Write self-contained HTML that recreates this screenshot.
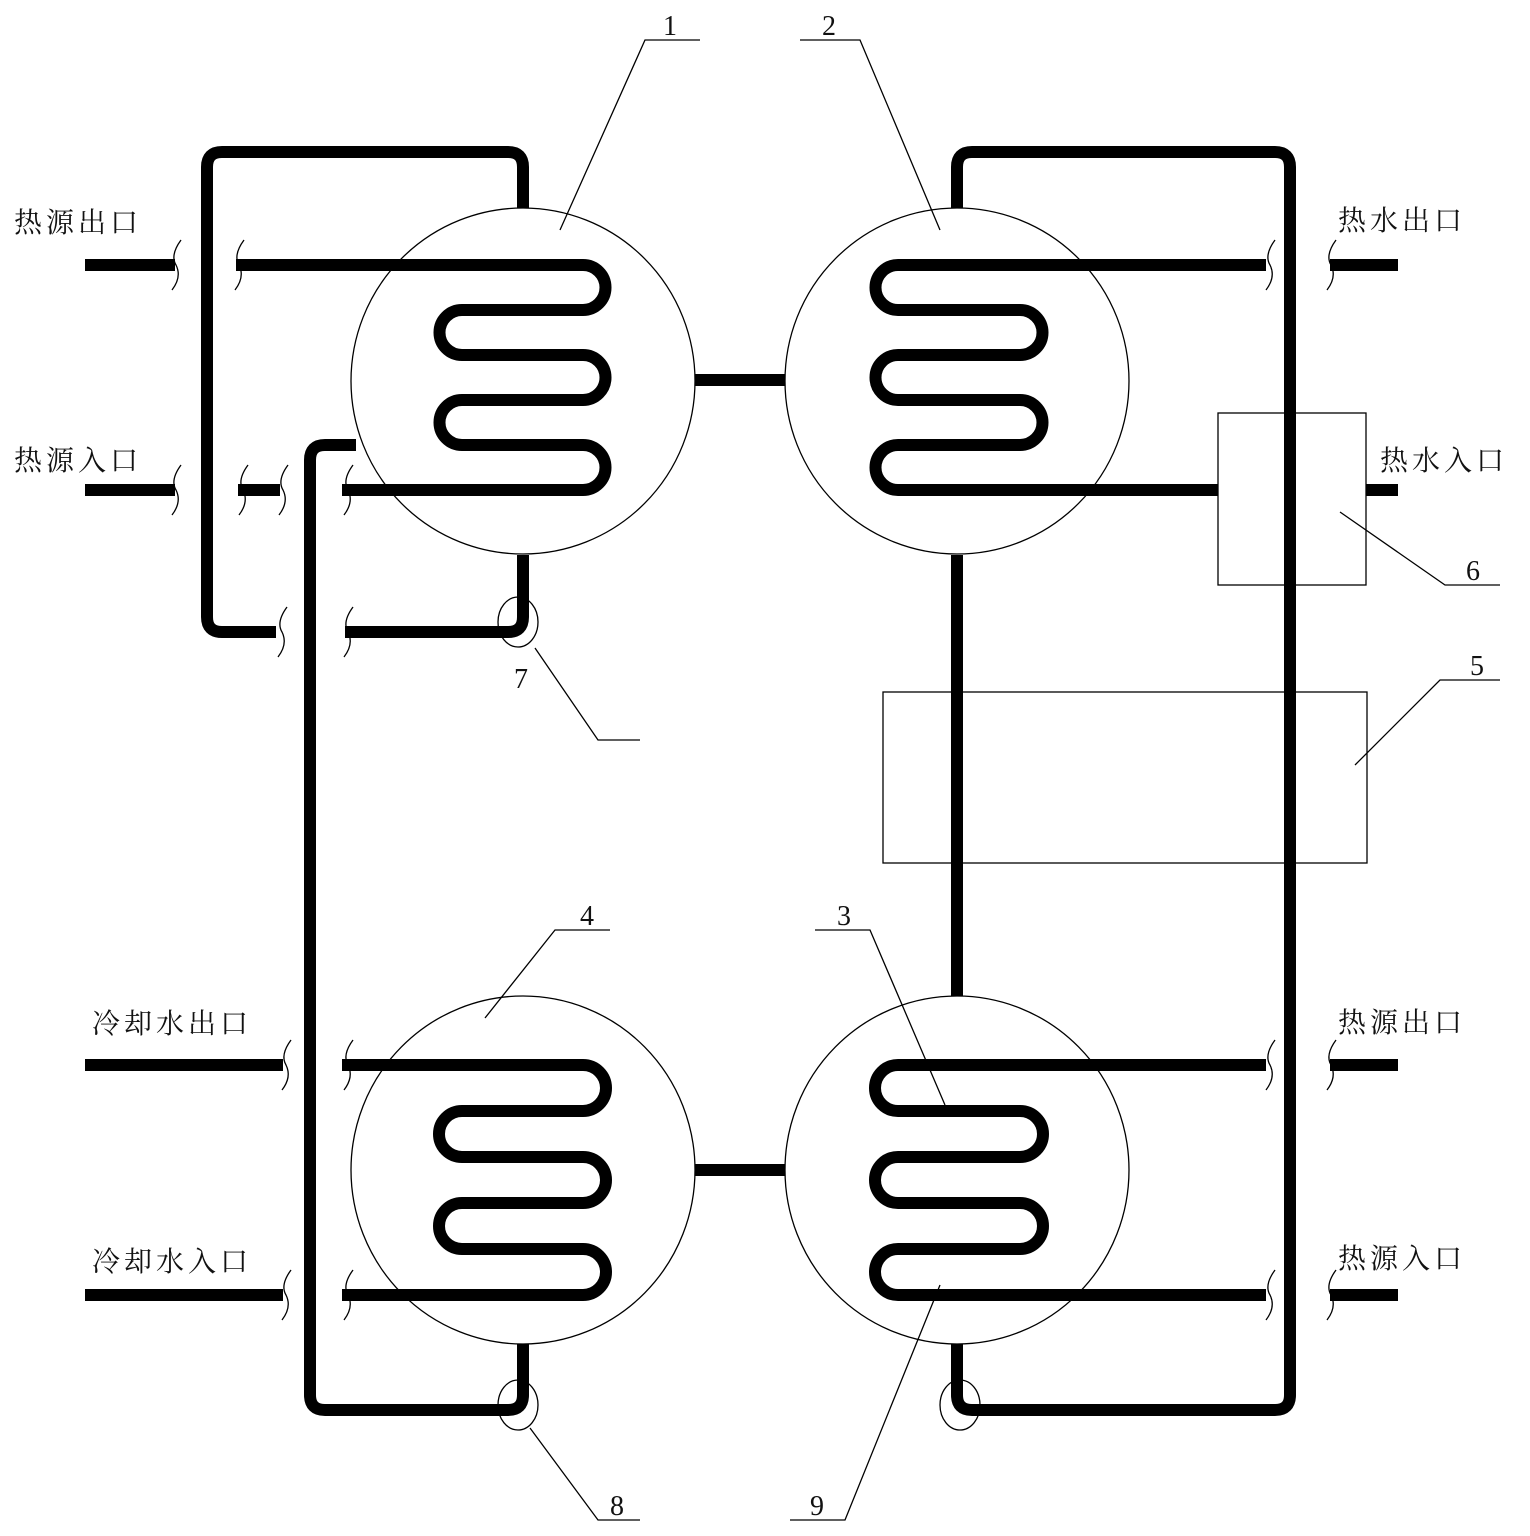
<!DOCTYPE html>
<html><head><meta charset="utf-8"><style>
html,body{margin:0;padding:0;background:#fff;}
svg{display:block;}
text{font-family:"Liberation Serif","Noto Serif CJK SC","Noto Sans CJK SC",serif;fill:#111;}
</style></head><body>
<svg width="1530" height="1536" viewBox="0 0 1530 1536" xmlns="http://www.w3.org/2000/svg">
<g fill="none" stroke="#000" stroke-width="12" stroke-linejoin="round">
<path d="M523,208 V167 Q523,152 508,152 H222 Q207,152 207,167 V617 Q207,632 222,632 H276"/>
<path d="M345,632 H508 Q523,632 523,617 V555"/>
<path d="M356,445 H325 Q310,445 310,460 V1395 Q310,1410 325,1410 H508 Q523,1410 523,1395 V1344"/>
<path d="M957,208 V167 Q957,152 972,152 H1275 Q1290,152 1290,167 V1395 Q1290,1410 1275,1410 H972 Q957,1410 957,1395 V1344"/>
<path d="M957,555 V996"/>
<path d="M695,380 H785"/><path d="M695,1170 H785"/>
<path d="M236,265 H583 A22.5,22.5 0 0 1 583,310 H462 A22.5,22.5 0 0 0 462,355 H583 A22.5,22.5 0 0 1 583,400 H462 A22.5,22.5 0 0 0 462,445 H583 A22.5,22.5 0 0 1 583,490 H342"/>
<path d="M1266,265 H898 A22.5,22.5 0 0 0 898,310 H1020 A22.5,22.5 0 0 1 1020,355 H898 A22.5,22.5 0 0 0 898,400 H1020 A22.5,22.5 0 0 1 1020,445 H898 A22.5,22.5 0 0 0 898,490 H1218"/>
<path d="M342,1065 H583 A23,23 0 0 1 583,1111 H462 A23,23 0 0 0 462,1157 H583 A23,23 0 0 1 583,1203 H462 A23,23 0 0 0 462,1249 H583 A23,23 0 0 1 583,1295 H342"/>
<path d="M1266,1065 H898 A23,23 0 0 0 898,1111 H1020 A23,23 0 0 1 1020,1157 H898 A23,23 0 0 0 898,1203 H1020 A23,23 0 0 1 1020,1249 H898 A23,23 0 0 0 898,1295 H1266"/>
<path d="M85,265 H175"/><path d="M85,490 H175"/><path d="M238,490 H280"/>
<path d="M1330,265 H1398"/><path d="M1366,490 H1398"/>
<path d="M1330,1065 H1398"/><path d="M1330,1295 H1398"/>
<path d="M85,1065 H283"/><path d="M85,1295 H283"/>
</g>
<g fill="none" stroke="#000" stroke-width="1.3">
<path d="M181,240 Q170,255 176,265 Q182,277 172,290"/>
<path d="M244,240 Q233,255 239,265 Q245,277 235,290"/>
<path d="M181,465 Q170,480 176,490 Q182,502 172,515"/>
<path d="M248,465 Q237,480 243,490 Q249,502 239,515"/>
<path d="M288,465 Q277,480 283,490 Q289,502 279,515"/>
<path d="M353,465 Q342,480 348,490 Q354,502 344,515"/>
<path d="M287,607 Q276,622 282,632 Q288,644 278,657"/>
<path d="M353,607 Q342,622 348,632 Q354,644 344,657"/>
<path d="M1275,240 Q1264,255 1270,265 Q1276,277 1266,290"/>
<path d="M1336,240 Q1325,255 1331,265 Q1337,277 1327,290"/>
<path d="M1275,1040 Q1264,1055 1270,1065 Q1276,1077 1266,1090"/>
<path d="M1336,1040 Q1325,1055 1331,1065 Q1337,1077 1327,1090"/>
<path d="M1275,1270 Q1264,1285 1270,1295 Q1276,1307 1266,1320"/>
<path d="M1336,1270 Q1325,1285 1331,1295 Q1337,1307 1327,1320"/>
<path d="M291,1040 Q280,1055 286,1065 Q292,1077 282,1090"/>
<path d="M353,1040 Q342,1055 348,1065 Q354,1077 344,1090"/>
<path d="M291,1270 Q280,1285 286,1295 Q292,1307 282,1320"/>
<path d="M353,1270 Q342,1285 348,1295 Q354,1307 344,1320"/>
<ellipse cx="523" cy="381" rx="172" ry="173"/>
<ellipse cx="957" cy="381" rx="172" ry="173"/>
<ellipse cx="523" cy="1170" rx="172" ry="174"/>
<ellipse cx="957" cy="1170" rx="172" ry="174"/>
<rect x="1218" y="413" width="148" height="172"/>
<rect x="883" y="692" width="484" height="171"/>
<ellipse cx="518" cy="622" rx="20" ry="25"/>
<ellipse cx="518" cy="1405" rx="20" ry="25"/>
<ellipse cx="960" cy="1405" rx="20" ry="25"/>
<path d="M700,40 H645 L560,230"/>
<path d="M800,40 H860 L940,230"/>
<path d="M1340,512 L1445,585 H1500"/>
<path d="M1500,680 H1440 L1355,765"/>
<path d="M535,648 L598,740 H640"/>
<path d="M610,930 H555 L485,1018"/>
<path d="M815,930 H870 L945,1105"/>
<path d="M530,1428 L598,1520 H640"/>
<path d="M940,1285 L845,1520 H790"/>
</g>
<g font-size="28">
<text x="663" y="35">1</text>
<text x="822" y="35">2</text>
<text x="837" y="925">3</text>
<text x="580" y="925">4</text>
<text x="1470" y="675">5</text>
<text x="1466" y="580">6</text>
<text x="514" y="688">7</text>
<text x="610" y="1515">8</text>
<text x="810" y="1515">9</text>
</g>
<g font-size="28" letter-spacing="4">
<text x="14" y="232">热源出口</text>
<text x="14" y="470">热源入口</text>
<text x="1338" y="230">热水出口</text>
<text x="1380" y="470">热水入口</text>
<text x="92" y="1033">冷却水出口</text>
<text x="92" y="1271">冷却水入口</text>
<text x="1338" y="1032">热源出口</text>
<text x="1338" y="1268">热源入口</text>
</g>
</svg>
</body></html>
